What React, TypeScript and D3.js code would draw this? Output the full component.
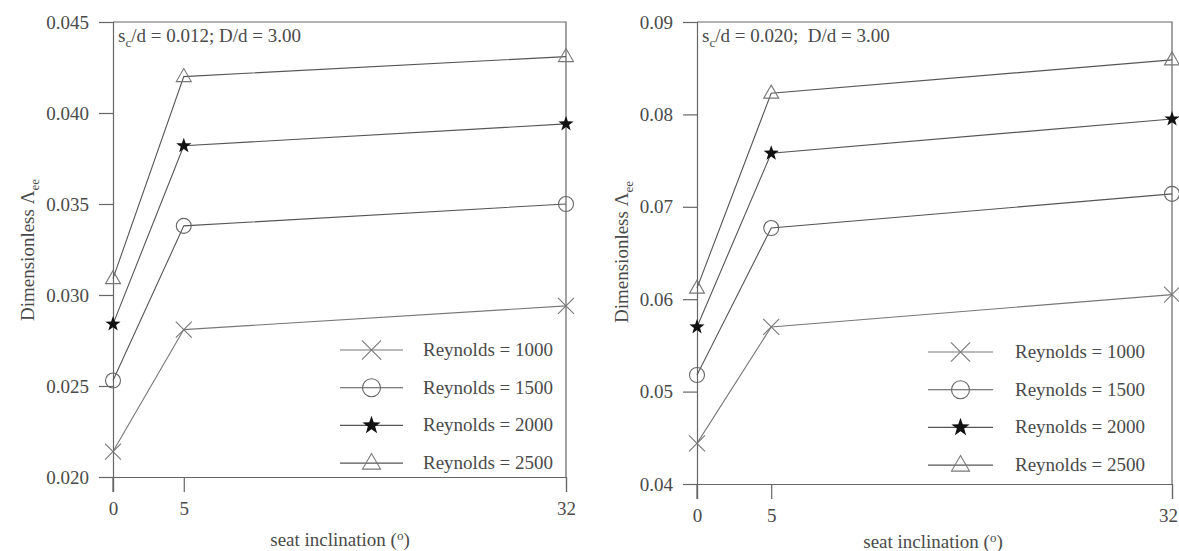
import React, { useEffect, useRef } from "react";
import * as d3 from "d3";

const inclinations = [0, 5, 32];
const xTickValues = [0, 5, 32];
const legendLabels = ["Reynolds = 1000", "Reynolds = 1500", "Reynolds = 2000", "Reynolds = 2500"];
const markerKinds = ["cross", "circle", "star", "triangle"];

// s_c/d = 0.012; D/d = 3.00
const leftRe1000 = [0.0214, 0.0281, 0.0294];
const leftRe1500 = [0.0253, 0.0338, 0.035];
const leftRe2000 = [0.0284, 0.0382, 0.0394];
const leftRe2500 = [0.0309, 0.042, 0.0431];
const leftYTicks = [0.02, 0.025, 0.03, 0.035, 0.04, 0.045];

// s_c/d = 0.020; D/d = 3.00
const rightRe1000 = [0.0444, 0.057, 0.0605];
const rightRe1500 = [0.0518, 0.0677, 0.0714];
const rightRe2000 = [0.057, 0.0758, 0.0795];
const rightRe2500 = [0.0612, 0.0823, 0.0859];
const rightYTicks = [0.04, 0.05, 0.06, 0.07, 0.08, 0.09];

const FONT = "'Liberation Serif', 'Times New Roman', serif";
const TEXT = "#4a4a4a";
const LINE = "#666";

const panels = [
  {
    series: [leftRe1000, leftRe1500, leftRe2000, leftRe2500],
    yTicks: leftYTicks,
    fmt: ".3f",
    box: { left: 113, right: 566, top: 22, bottom: 477 },
    ratio: "0.012; D/d = 3.00",
    legend: { x0: 340, x1: 403, tx: 423, top: 350, step: 37.7 },
    yLabel: { x: 34, y: 250 },
    xTitle: { x: 340, y: 546 },
    lastTickShift: 0,
  },
  {
    series: [rightRe1000, rightRe1500, rightRe2000, rightRe2500],
    yTicks: rightYTicks,
    fmt: ".2f",
    box: { left: 697, right: 1172, top: 22, bottom: 484 },
    ratio: "0.020;  D/d = 3.00",
    legend: { x0: 928, x1: 993, tx: 1015, top: 352, step: 37.7 },
    yLabel: { x: 628, y: 252 },
    xTitle: { x: 933, y: 548 },
    lastTickShift: -4,
  },
];

const starPath = (r) => {
  const pts = [];
  for (let i = 0; i < 10; i++) {
    const rad = i % 2 === 0 ? r : r * 0.4;
    const a = (Math.PI / 5) * i - Math.PI / 2;
    pts.push([rad * Math.cos(a), rad * Math.sin(a)]);
  }
  return d3.line()(pts) + "Z";
};

// draws one marker at 0,0 inside g; k scales legend markers up a bit
const drawMarker = (g, kind, k = 1) => {
  if (kind === "cross") {
    const s = 8 * k;
    g.append("path")
      .attr("d", `M${-s},${-s}L${s},${s}M${-s},${s}L${s},${-s}`)
      .attr("stroke", "#777")
      .attr("stroke-width", 1.1)
      .attr("fill", "none");
  } else if (kind === "circle") {
    g.append("circle").attr("r", 7.5 * k).attr("fill", "none").attr("stroke", LINE).attr("stroke-width", 1.1);
  } else if (kind === "star") {
    g.append("path").attr("d", starPath(8 * k)).attr("fill", "#111");
  } else {
    const w = 7.5 * k;
    g.append("path")
      .attr("d", `M0,${-8 * k}L${w},${5 * k}L${-w},${5 * k}Z`)
      .attr("fill", "none")
      .attr("stroke", "#777")
      .attr("stroke-width", 1.1);
  }
};

const App = () => {
  const svgRef = useRef(null);

  useEffect(() => {
    const svg = d3.select(svgRef.current);
    svg.selectAll("*").remove();

    panels.forEach((p) => {
      const { box } = p;
      const g = svg.append("g");
      const x = d3.scaleLinear().domain([0, 32]).range([box.left, box.right]);
      const y = d3
        .scaleLinear()
        .domain([p.yTicks[0], p.yTicks[p.yTicks.length - 1]])
        .range([box.bottom, box.top]);

      // frame: top and right border
      g.append("path")
        .attr("d", `M${box.left},${box.top}H${box.right}V${box.bottom}`)
        .attr("fill", "none")
        .attr("stroke", LINE)
        .attr("stroke-width", 1.2);

      const yAxis = g
        .append("g")
        .attr("transform", `translate(${box.left},0)`)
        .call(d3.axisLeft(y).tickValues(p.yTicks).tickFormat(d3.format(p.fmt)).tickSize(14).tickPadding(10));
      const xAxis = g
        .append("g")
        .attr("transform", `translate(0,${box.bottom})`)
        .call(d3.axisBottom(x).tickValues(xTickValues).tickFormat(d3.format("d")).tickSize(15).tickPadding(10));

      [yAxis, xAxis].forEach((ax) => {
        ax.select(".domain").attr("stroke", LINE).attr("stroke-width", 1.2);
        ax.selectAll(".tick line").attr("stroke", LINE).attr("stroke-width", 1.2);
        ax.selectAll(".tick text").attr("fill", TEXT).style("font-family", FONT).style("font-size", "19px");
      });
      // keep the "32" inside the page on the right panel
      xAxis
        .selectAll(".tick text")
        .filter((d) => d === 32)
        .attr("dx", p.lastTickShift);

      // y axis line continues down to the x tick at 0
      g.append("line")
        .attr("x1", box.left)
        .attr("x2", box.left)
        .attr("y1", box.bottom)
        .attr("y2", box.bottom + 15)
        .attr("stroke", LINE)
        .attr("stroke-width", 1.2);

      const line = d3
        .line()
        .x((d, i) => x(inclinations[i]))
        .y((d) => y(d));

      p.series.forEach((vals, si) => {
        g.append("path")
          .datum(vals)
          .attr("fill", "none")
          .attr("stroke", si === 0 ? "#777" : "#555")
          .attr("stroke-width", 1.1)
          .attr("d", line);
        vals.forEach((v, i) => {
          const m = g.append("g").attr("transform", `translate(${x(inclinations[i])},${y(v)})`);
          drawMarker(m, markerKinds[si]);
        });
      });

      // legend
      legendLabels.forEach((lab, i) => {
        const ly = p.legend.top + i * p.legend.step;
        g.append("line")
          .attr("x1", p.legend.x0)
          .attr("x2", p.legend.x1)
          .attr("y1", ly)
          .attr("y2", ly)
          .attr("stroke", i === 0 ? "#777" : "#555")
          .attr("stroke-width", 1.1);
        const m = g.append("g").attr("transform", `translate(${(p.legend.x0 + p.legend.x1) / 2},${ly})`);
        drawMarker(m, markerKinds[i], 1.2);
        g.append("text")
          .attr("x", p.legend.tx)
          .attr("y", ly + 6)
          .attr("fill", TEXT)
          .style("font-family", FONT)
          .style("font-size", "19px")
          .text(lab);
      });

      // annotation
      const ann = g
        .append("text")
        .attr("x", box.left + 5)
        .attr("y", box.top + 20)
        .attr("fill", TEXT)
        .style("font-family", FONT)
        .style("font-size", "19px")
        .style("white-space", "pre");
      ann.append("tspan").text("s");
      ann.append("tspan").attr("dy", 5).style("font-size", "13px").text("c");
      ann.append("tspan").attr("dy", -5).text(`/d = ${p.ratio}`);

      // y label
      const yl = g
        .append("text")
        .attr("transform", `translate(${p.yLabel.x},${p.yLabel.y}) rotate(-90)`)
        .attr("text-anchor", "middle")
        .attr("fill", TEXT)
        .style("font-family", FONT)
        .style("font-size", "19px");
      yl.append("tspan").text("Dimensionless \u039B");
      yl.append("tspan").attr("dy", 5).style("font-size", "13px").text("ee");

      // x title
      const xt = g
        .append("text")
        .attr("x", p.xTitle.x)
        .attr("y", p.xTitle.y)
        .attr("text-anchor", "middle")
        .attr("fill", TEXT)
        .style("font-family", FONT)
        .style("font-size", "19px");
      xt.append("tspan").text("seat inclination (");
      xt.append("tspan").attr("dy", -6).style("font-size", "13px").text("o");
      xt.append("tspan").attr("dy", 6).text(")");
    });
  }, []);

  return (
    <svg
      ref={svgRef}
      width={1179}
      height={551}
      style={{ position: "absolute", left: 0, top: 0, background: "#fff" }}
    ></svg>
  );
};

export default App;
